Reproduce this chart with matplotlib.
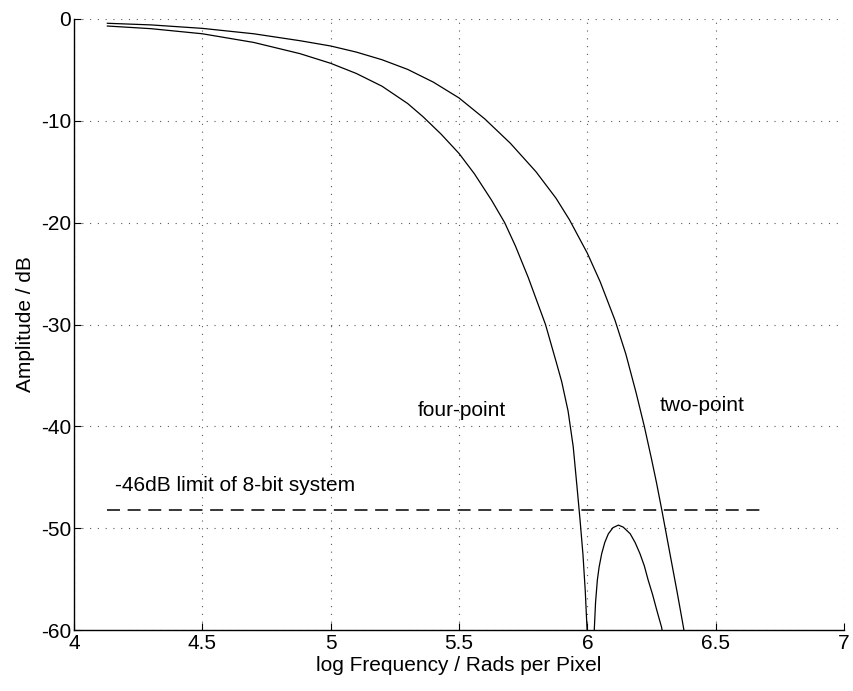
import matplotlib
matplotlib.use("Agg")
import matplotlib.pyplot as plt

plt.rcParams['font.family'] = ['Liberation Sans', 'DejaVu Sans']

# two-point interpolator response
two_x = [4.13, 4.30, 4.50, 4.70, 4.88, 5.00, 5.10, 5.20, 5.30, 5.40, 5.50, 5.60,
         5.70, 5.80, 5.878, 5.93, 6.00, 6.05, 6.108, 6.15, 6.19, 6.222, 6.25,
         6.27, 6.29, 6.31, 6.33, 6.35, 6.37, 6.39]
two_y = [-0.42, -0.58, -0.92, -1.45, -2.13, -2.65, -3.25, -4.0, -4.95, -6.2, -7.75, -9.8,
         -12.2, -15.0, -17.6, -19.7, -23.0, -25.8, -29.6, -32.9, -36.7, -40.0, -43.2,
         -45.6, -48.2, -50.9, -53.6, -56.3, -59.1, -62.0]

# four-point interpolator response
four_x = [4.13, 4.30, 4.50, 4.70, 4.88, 5.00, 5.10, 5.20, 5.30, 5.36, 5.43, 5.50,
          5.56, 5.627, 5.678, 5.72, 5.77, 5.837, 5.88, 5.90, 5.925, 5.945, 5.96,
          5.972, 5.983, 5.992, 6.00, 6.012,
          6.021, 6.027, 6.032, 6.039, 6.046, 6.056, 6.068, 6.082, 6.10, 6.121,
          6.14, 6.167, 6.186, 6.205, 6.222, 6.237, 6.254, 6.27, 6.28, 6.289,
          6.297, 6.306]
four_y = [-0.69, -0.95, -1.45, -2.3, -3.4, -4.35, -5.35, -6.6, -8.3, -9.6, -11.3, -13.2,
          -15.2, -17.8, -20.0, -22.3, -25.4, -30.0, -33.8, -35.6, -38.5, -42.0, -46.0,
          -49.3, -52.6, -56.2, -60.5, -68.0,
          -65.0, -60.0, -57.3, -55.1, -53.8, -52.5, -51.4, -50.55, -49.95, -49.7,
          -49.9, -50.55, -51.4, -52.5, -53.7, -55.1, -56.5, -58.0, -58.9, -59.7,
          -60.8, -63.0]

limit_x = [4.13, 6.69]
limit_y = [-48.2, -48.2]

x_ticks = [4, 4.5, 5, 5.5, 6, 6.5, 7]
x_ticklabels = ['4', '4.5', '5', '5.5', '6', '6.5', '7']
y_ticks = [0, -10, -20, -30, -40, -50, -60]
y_ticklabels = ['0', '-10', '-20', '-30', '-40', '-50', '-60']

fig = plt.figure(figsize=(8.54, 6.91), dpi=100)
ax = fig.add_axes([74/854, 1-630/691, 770/854, 611/691])

ax.plot(two_x, two_y, color='black', lw=0.9)
ax.plot(four_x, four_y, color='black', lw=0.9)
ax.plot(limit_x, limit_y, color='black', lw=1.1, linestyle=(0, (8.5, 5.0)))

ax.set_xlim(4, 7)
ax.set_ylim(-60, 0)
ax.set_xticks(x_ticks)
ax.set_xticklabels(x_ticklabels)
ax.set_yticks(y_ticks)
ax.set_yticklabels(y_ticklabels)

ax.grid(True, color='0.35', linestyle=(0, (1, 6)), linewidth=0.8)
ax.spines['top'].set_visible(False)
ax.spines['right'].set_visible(False)
for s in ['left', 'bottom']:
    ax.spines[s].set_linewidth(1.0)
ax.tick_params(direction='in', length=5, width=0.8, labelsize=15)
ax.tick_params(axis='x', pad=3)
ax.tick_params(axis='y', pad=2)

ax.set_xlabel('log Frequency / Rads per Pixel', fontsize=15, labelpad=2)
ax.set_ylabel('Amplitude / dB', fontsize=15, labelpad=4)

ax.text(4.16, -45.8, '-46dB limit of 8-bit system', fontsize=15, va='center', ha='left')
ax.text(5.34, -38.4, 'four-point', fontsize=15, va='center', ha='left')
ax.text(6.28, -38.0, 'two-point', fontsize=15, va='center', ha='left')

fig.savefig('out.png', dpi=100)
